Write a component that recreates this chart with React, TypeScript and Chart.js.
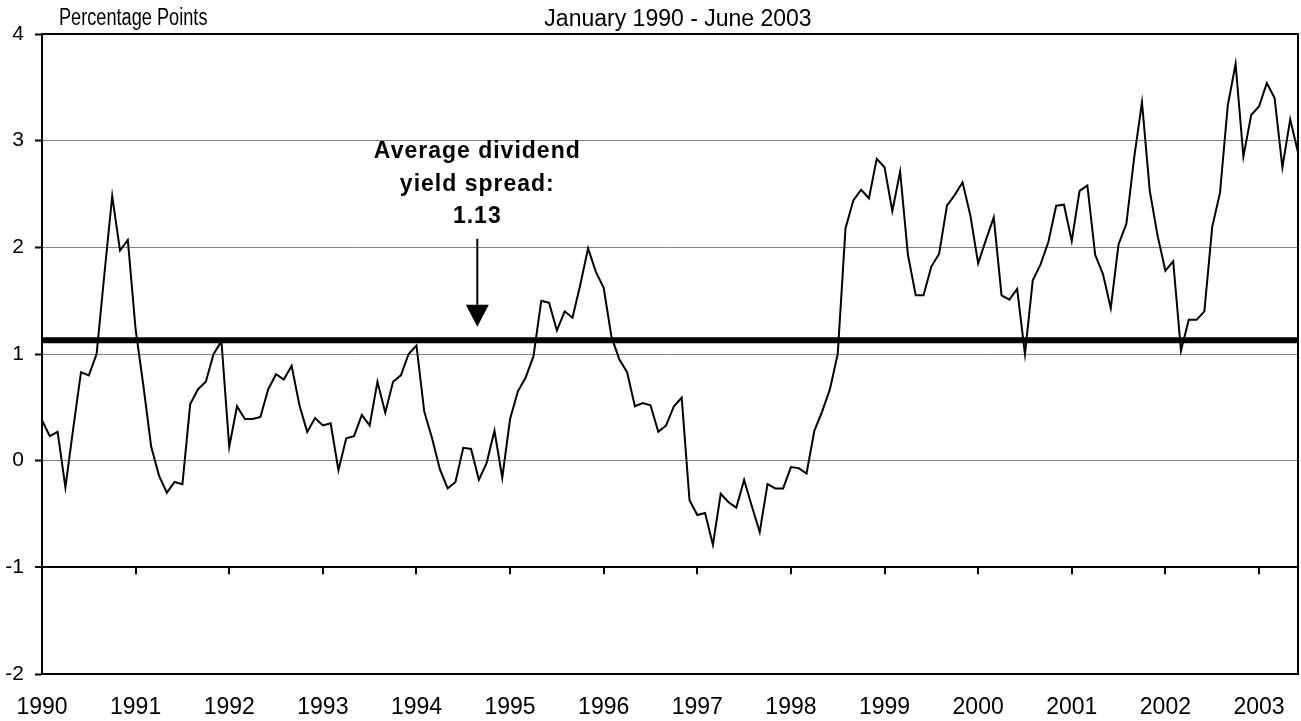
import React, { useEffect, useRef } from 'react';
import { Chart, registerables } from 'chart.js';

Chart.register(...registerables);

// ---------- data ----------
const yearLabels = ['1990', '1991', '1992', '1993', '1994', '1995', '1996', '1997', '1998', '1999', '2000', '2001', '2002', '2003'];
const monthsPerYear = 12;

// Monthly dividend yield spread, Jan 1990 - Jun 2003 (percentage points)
const spreadValues = [
  0.38, 0.23, 0.27, -0.25, 0.30, 0.83, 0.80, 1.00, 1.75, 2.48, 1.97, 2.07,
  1.23, 0.70, 0.13, -0.14, -0.30, -0.20, -0.22, 0.53, 0.67, 0.74, 1.00, 1.12,
  0.13, 0.51, 0.39, 0.39, 0.41, 0.67, 0.81, 0.76, 0.89, 0.52, 0.27, 0.40,
  0.33, 0.35, -0.09, 0.21, 0.23, 0.43, 0.33, 0.74, 0.45, 0.74, 0.80, 1.00,
  1.08, 0.46, 0.21, -0.08, -0.26, -0.20, 0.12, 0.11, -0.18, -0.02, 0.28, -0.16,
  0.39, 0.65, 0.78, 0.98, 1.50, 1.48, 1.22, 1.40, 1.34, 1.65, 1.99, 1.77,
  1.62, 1.16, 0.95, 0.83, 0.51, 0.54, 0.52, 0.27, 0.33, 0.51, 0.59, -0.37,
  -0.51, -0.49, -0.79, -0.31, -0.39, -0.44, -0.18, -0.43, -0.67, -0.22, -0.26, -0.26,
  -0.06, -0.07, -0.12, 0.28, 0.46, 0.67, 1.00, 2.18, 2.44, 2.54, 2.46, 2.83,
  2.75, 2.34, 2.71, 1.93, 1.55, 1.55, 1.82, 1.94, 2.39, 2.49, 2.61, 2.30,
  1.85, 2.07, 2.28, 1.55, 1.51, 1.61, 1.00, 1.69, 1.84, 2.05, 2.39, 2.40,
  2.06, 2.53, 2.58, 1.93, 1.75, 1.43, 2.03, 2.22, 2.84, 3.36, 2.53, 2.11,
  1.78, 1.87, 1.03, 1.32, 1.32, 1.40, 2.19, 2.51, 3.33, 3.72, 2.85, 3.24,
  3.32, 3.54, 3.40, 2.75, 3.20, 2.89,
];

const averageSpread = 1.13;
const yMin = -2;
const yMax = 4;
const axisCrossValue = -1;

const unitsText = 'Percentage Points';
const periodText = 'January 1990 - June 2003';
const annotationLines = ['Average dividend', 'yield spread:', '1.13'];

// annotation placement (in data units)
const annotationAt = { month: 55.8, lineValues: [2.84, 2.53, 2.23], arrowFrom: 2.08, arrowTo: 1.255 };

const FONT = '"Liberation Sans", Arial, Helvetica, sans-serif';

const decorPlugin = {
  id: 'decor',
  afterDatasetsDraw(chart: any) {
    const { ctx, chartArea: a, scales } = chart;
    const x = scales.x;
    const y = scales.y;
    ctx.save();
    // year tick marks on the crossing axis
    ctx.strokeStyle = '#000';
    ctx.lineWidth = 2;
    const yc = y.getPixelForValue(axisCrossValue);
    for (let k = 1; k < yearLabels.length; k++) {
      const px = Math.round(x.getPixelForValue(k * monthsPerYear));
      ctx.beginPath();
      ctx.moveTo(px, yc);
      ctx.lineTo(px, yc + 7);
      ctx.stroke();
    }
    // plot-area border
    ctx.lineWidth = 2;
    ctx.strokeRect(a.left, a.top, a.right - a.left, a.bottom - a.top);
    ctx.restore();
  },
  afterDraw(chart: any) {
    const { ctx, scales } = chart;
    const x = scales.x;
    const y = scales.y;
    ctx.save();
    ctx.fillStyle = '#000';
    // units label (narrow)
    ctx.font = `23px ${FONT}`;
    ctx.textAlign = 'left';
    ctx.textBaseline = 'alphabetic';
    ctx.save();
    ctx.translate(59, 25);
    ctx.scale(0.79, 1);
    ctx.fillText(unitsText, 0, 0);
    ctx.restore();
    // period subtitle
    ctx.textAlign = 'center';
    ctx.font = `23px ${FONT}`;
    ctx.fillText(periodText, 678, 26);

    // annotation
    const ax = x.getPixelForValue(annotationAt.month);
    ctx.font = `bold 23px ${FONT}`;
    try { (ctx as any).letterSpacing = '1px'; } catch (e) {}
    annotationLines.forEach((t, i) => {
      ctx.fillText(t, ax, y.getPixelForValue(annotationAt.lineValues[i]));
    });
    try { (ctx as any).letterSpacing = '0px'; } catch (e) {}
    const yTop = y.getPixelForValue(annotationAt.arrowFrom);
    const yTip = y.getPixelForValue(annotationAt.arrowTo);
    const headH = 22;
    ctx.strokeStyle = '#000';
    ctx.lineWidth = 2;
    ctx.beginPath();
    ctx.moveTo(ax, yTop);
    ctx.lineTo(ax, yTip - headH);
    ctx.stroke();
    ctx.beginPath();
    ctx.moveTo(ax - 11.5, yTip - headH);
    ctx.lineTo(ax + 11.5, yTip - headH);
    ctx.lineTo(ax, yTip);
    ctx.closePath();
    ctx.fill();
    ctx.restore();
  },
};

export default function App() {
  const canvasRef = useRef<HTMLCanvasElement | null>(null);

  useEffect(() => {
    document.body.style.margin = '0';
    document.body.style.overflow = 'hidden';
    const canvas = canvasRef.current;
    if (!canvas) return;
    const lastIndex = spreadValues.length - 1;
    const chart = new Chart(canvas, {
      type: 'line',
      data: {
        datasets: [
          {
            label: 'Average',
            data: [
              { x: 0, y: averageSpread },
              { x: lastIndex, y: averageSpread },
            ],
            borderColor: '#000',
            borderWidth: 6,
            pointRadius: 0,
            tension: 0,
          },
          {
            label: 'Spread',
            data: spreadValues.map((v, i) => ({ x: i, y: v })),
            borderColor: '#000',
            borderWidth: 2,
            pointRadius: 0,
            tension: 0,
          },
        ],
      },
      options: {
        responsive: false,
        animation: false,
        devicePixelRatio: 1,
        layout: { padding: { top: 34, right: 3, left: 0, bottom: 0 } },
        plugins: {
          legend: { display: false },
          tooltip: { enabled: false },
          title: { display: false },
        },
        scales: {
          x: {
            type: 'linear',
            min: 0,
            max: lastIndex,
            afterBuildTicks: (scale: any) => {
              scale.ticks = yearLabels.map((_, k) => ({ value: k * monthsPerYear }));
            },
            ticks: {
              autoSkip: false,
              maxRotation: 0,
              padding: 20,
              color: '#000',
              font: { family: FONT, size: 23 },
              callback: (value: any) => yearLabels[Math.round(Number(value) / monthsPerYear)] ?? '',
            },
            grid: { display: false, drawTicks: false },
            border: { display: true, color: '#000', width: 2 },
            afterFit: (scale: any) => {
              scale.height = 47;
              scale.paddingLeft = 0;
              scale.paddingRight = 0;
            },
          },
          y: {
            min: yMin,
            max: yMax,
            ticks: {
              stepSize: 1,
              padding: 11,
              color: '#000',
              font: { family: FONT, size: 21 },
            },
            grid: {
              color: (c: any) => (c.tick && c.tick.value === axisCrossValue ? '#000' : '#808080'),
              lineWidth: (c: any) => (c.tick && c.tick.value === axisCrossValue ? 2 : 1),
              tickLength: 7,
              tickColor: '#000',
              tickWidth: 2,
            },
            border: { color: '#000', width: 2 },
            afterFit: (scale: any) => {
              scale.width = 42;
              scale.paddingTop = 0;
              scale.paddingBottom = 0;
            },
          },
        },
      },
      plugins: [decorPlugin],
    });
    return () => chart.destroy();
  }, []);

  return (
    <div style={{ position: 'absolute', left: 0, top: 0, width: 1301, height: 721, background: '#fff' }}>
      <canvas ref={canvasRef} width={1301} height={721} style={{ display: 'block' }} />
    </div>
  );
}
